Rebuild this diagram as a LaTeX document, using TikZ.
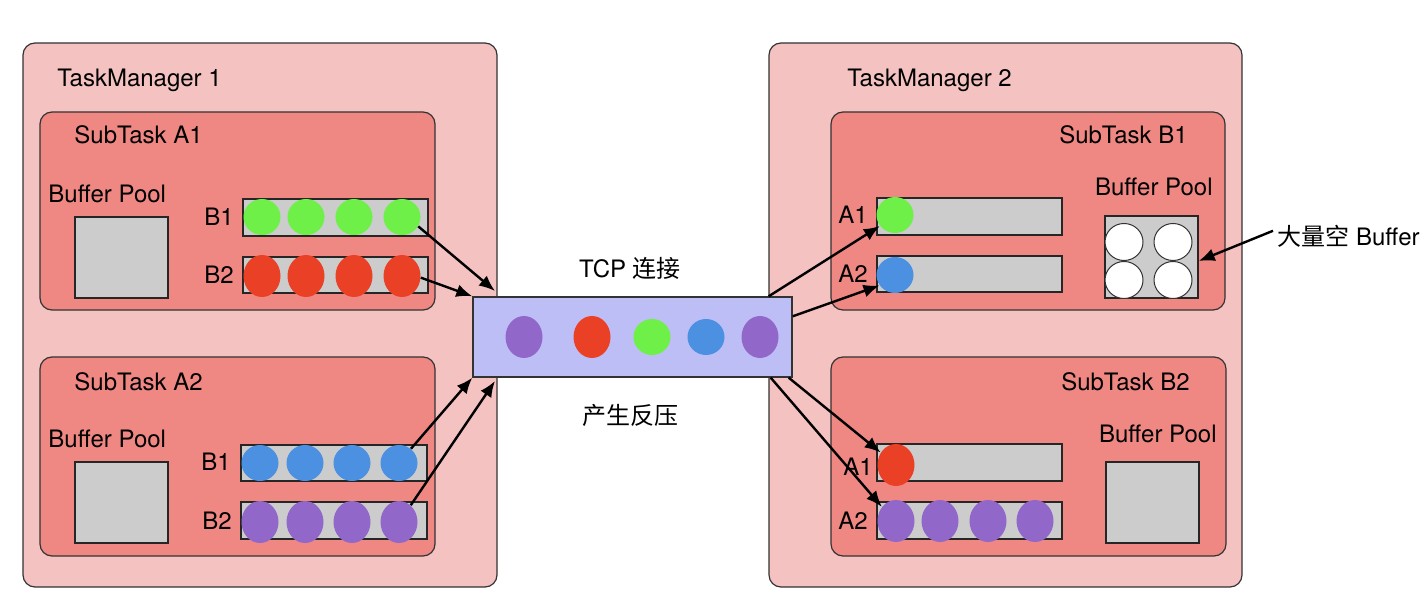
\documentclass[tikz,border=0pt]{standalone}
\usepackage{fontspec}
\setmainfont{TeX Gyre Heros}
\newfontfamily\cjk{Noto Sans CJK SC}
\usetikzlibrary{arrows.meta,shapes.geometric,fit}

\definecolor{tmpink}{RGB}{244,194,192}
\definecolor{subred}{RGB}{239,135,131}
\definecolor{poolgray}{RGB}{204,204,204}
\definecolor{ballgreen}{RGB}{110,240,72}
\definecolor{ballred}{RGB}{233,64,38}
\definecolor{ballblue}{RGB}{76,144,226}
\definecolor{ballpurple}{RGB}{145,104,202}
\definecolor{tcpblue}{RGB}{190,190,246}

\begin{document}
\begin{tikzpicture}[x=0.5pt,y=-0.5pt,>={Latex[length=8pt,width=6.5pt]},
    txt/.style={font=\fontsize{12}{14}\selectfont,inner sep=0pt},
    tm/.style={draw=black!80,fill=tmpink,rounded corners=6pt,inner sep=0pt,line width=0.6pt},
    sub/.style={draw=black!80,fill=subred,rounded corners=6pt,inner sep=0pt,line width=0.6pt},
    pool/.style={draw=black!85,fill=poolgray,inner sep=0pt,line width=0.7pt},
    ball/.style={ellipse,fill=#1,inner sep=0pt,minimum width=18.5pt,minimum height=18pt},
    tall/.style={minimum height=21pt},
    free/.style={ellipse,draw=black!80,fill=white,inner sep=0pt,minimum width=19pt,minimum height=18.5pt,line width=0.5pt},
    link/.style={->,line width=1.2pt}]

    \useasboundingbox (0,0) rectangle (1428,608);

    % TaskManager 1
    \node[tm,fit={(23,43)(497,587)}] (tm1) {};
    \node[txt,anchor=base west] at (57,87) {TaskManager 1};

    \node[sub,fit={(40,112)(435,310)}] (suba1) {};
    \node[txt,anchor=base west] at (74,144) {SubTask A1};
    \node[txt,anchor=base west] at (48,203) {Buffer Pool};
    \node[pool,fit={(75,217)(168,298)}] (a1pool) {};
    \node[txt,anchor=base east] at (234,226) {B1};
    \node[txt,anchor=base east] at (234,284) {B2};
    \node[pool,fit={(243,199)(428,236)}] (a1b1) {};
    \node[pool,fit={(243,257)(428,293)}] (a1b2) {};
    \foreach \i/\x in {1/262,2/306,3/354,4/402}
        {
        \node[ball=ballgreen] (a1g\i) at (\x,217) {};
        \node[ball=ballred,tall] (a1r\i) at (\x,276) {};
        }

    \node[sub,fit={(40,357)(435,556)}] (suba2) {};
    \node[txt,anchor=base west] at (74,391) {SubTask A2};
    \node[txt,anchor=base west] at (48,448) {Buffer Pool};
    \node[pool,fit={(75,462)(168,543)}] (a2pool) {};
    \node[txt,anchor=base east] at (231,471) {B1};
    \node[txt,anchor=base east] at (232,530) {B2};
    \node[pool,fit={(241,445)(427,481)}] (a2b1) {};
    \node[pool,fit={(241,502)(427,539)}] (a2b2) {};
    \foreach \i/\x in {1/260,2/305,3/352,4/399}
        {
        \node[ball=ballblue] (a2b\i) at (\x,463) {};
        \node[ball=ballpurple,tall] (a2p\i) at (\x,522) {};
        }

    % TaskManager 2
    \node[tm,fit={(769,43)(1242,587)}] (tm2) {};
    \node[txt,anchor=base west] at (847,87) {TaskManager 2};

    \node[sub,fit={(831,112)(1225,310)}] (subb1) {};
    \node[txt,anchor=base east] at (1188,144) {SubTask B1};
    \node[txt,anchor=base east] at (1213,196) {Buffer Pool};
    \node[txt,anchor=base east] at (868,224) {A1};
    \node[txt,anchor=base east] at (868,283) {A2};
    \node[pool,fit={(877,198)(1062,235)}] (b1a1) {};
    \node[pool,fit={(877,256)(1062,292)}] (b1a2) {};
    \node[ball=ballgreen] (b1g) at (895,215) {};
    \node[ball=ballblue] (b1b) at (895,275) {};
    \node[pool,fit={(1105,216)(1198,298)}] (b1pool) {};
    \foreach \x in {1124,1173}
        {
        \foreach \y in {242,280}
            {
            \node[free] at (\x,\y) {};
            }
        }

    \node[sub,fit={(831,357)(1226,556)}] (subb2) {};
    \node[txt,anchor=base east] at (1190,391) {SubTask B2};
    \node[txt,anchor=base east] at (1217,443) {Buffer Pool};
    \node[pool,fit={(877,444)(1062,481)}] (b2a1) {};
    \node[pool,fit={(877,502)(1062,539)}] (b2a2) {};
    \node[txt,anchor=base east] at (873,475) {A1};
    \node[txt,anchor=base east] at (868,530) {A2};
    \node[ball=ballred,tall] (b2r) at (896,465) {};
    \foreach \i/\x in {1/896,2/940,3/988,4/1035}
        {
        \node[ball=ballpurple,tall] (b2p\i) at (\x,521) {};
        }
    \node[pool,fit={(1106,462)(1199,543)}] (b2pool) {};

    % TCP
    \node[draw=black!80,fill=tcpblue,inner sep=0pt,line width=0.7pt,fit={(473,297)(792,377)}] (tcp) {};
    \node[txt,anchor=base] at (630,278) {TCP {\cjk 连接}};
    \node[txt,anchor=base] at (630,425) {\cjk 产生反压};
    \node[ball=ballpurple,tall] (t1) at (524,337) {};
    \node[ball=ballred,tall] (t2) at (592,337) {};
    \node[ball=ballgreen] (t3) at (652,337) {};
    \node[ball=ballblue] (t4) at (706,337) {};
    \node[ball=ballpurple,tall] (t5) at (760,337) {};

    \node[txt,anchor=base west,inner xsep=2pt] (note) at (1273,246) {{\cjk 大量空} Buffer};

    \coordinate (tcpin1) at (495,291);
    \coordinate (tcpin4) at (495,381);

    \foreach \from/\to in {a1g4.-30/tcpin1, a1r4.-5/tcp.north west, a2b4.50/tcp.south west, a2p4.55/tcpin4}
        {
        \draw[link] (\from) -- (\to);
        }

    \draw[link] ([xshift=-12pt]tcp.north east) -- (b1g.216);
    \draw[link] ([yshift=-10pt]tcp.north east) -- (b1b.214);
    \draw[link] ([xshift=-2pt]tcp.south east) -- (b2r.141);
    \draw[link] ([xshift=-11pt]tcp.south east) -- (b2p1.135);
    \draw[link] ([yshift=3pt]note.west) -- ([yshift=-2pt]b1pool.east);

\end{tikzpicture}
\end{document}
